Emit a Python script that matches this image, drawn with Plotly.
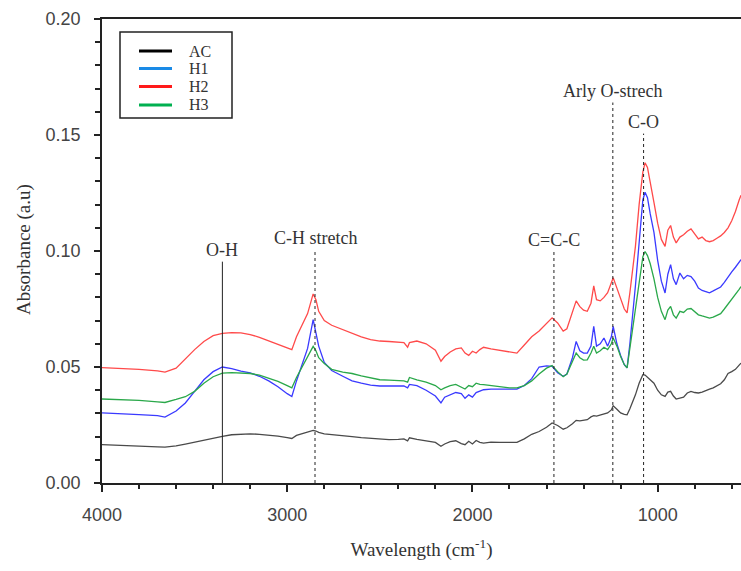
import plotly.graph_objects as go

wavenumber = [4000, 3900, 3800, 3700, 3660, 3600, 3550, 3500, 3450, 3400, 3350, 3300, 3250, 3200, 3150, 3100, 3050, 3000, 2975, 2950, 2920, 2890, 2860, 2845, 2830, 2800, 2760, 2700, 2650, 2600, 2550, 2500, 2450, 2400, 2370, 2350, 2340, 2300, 2250, 2200, 2170, 2150, 2120, 2090, 2060, 2040, 2020, 2000, 1980, 1960, 1940, 1900, 1850, 1800, 1760, 1720, 1680, 1640, 1600, 1570, 1540, 1510, 1490, 1460, 1440, 1420, 1400, 1380, 1360, 1345, 1330, 1310, 1290, 1270, 1250, 1240, 1220, 1200, 1180, 1165, 1150, 1120, 1100, 1080, 1068, 1055, 1040, 1020, 1000, 980, 960, 945, 930, 915, 900, 880, 860, 840, 820, 800, 780, 760, 740, 720, 700, 680, 660, 640, 620, 600, 580, 560, 550]

ac = [0.0165, 0.0163, 0.0160, 0.0156, 0.0155, 0.0160, 0.0168, 0.0177, 0.0185, 0.0195, 0.0201, 0.0208, 0.0211, 0.0212, 0.0210, 0.0207, 0.0202, 0.0196, 0.0192, 0.0205, 0.0212, 0.0218, 0.0227, 0.0224, 0.0218, 0.0212, 0.0208, 0.0204, 0.0200, 0.0196, 0.0192, 0.0188, 0.0187, 0.0188, 0.0190, 0.0182, 0.0195, 0.0188, 0.0183, 0.0175, 0.0158, 0.0168, 0.0178, 0.0182, 0.0170, 0.0165, 0.0180, 0.0168, 0.0183, 0.0175, 0.0172, 0.0176, 0.0175, 0.0174, 0.0175, 0.0190, 0.0210, 0.0222, 0.0240, 0.0259, 0.0248, 0.0232, 0.0238, 0.0255, 0.0270, 0.0268, 0.0272, 0.0273, 0.0285, 0.0290, 0.0288, 0.0292, 0.0298, 0.0302, 0.0315, 0.0333, 0.0318, 0.0302, 0.0296, 0.0294, 0.0320, 0.0380, 0.0430, 0.0467, 0.0465, 0.0455, 0.0445, 0.0430, 0.0400, 0.0380, 0.0373, 0.0392, 0.0395, 0.0375, 0.0362, 0.0366, 0.0370, 0.0388, 0.0395, 0.0390, 0.0388, 0.0392, 0.0400, 0.0405, 0.0410, 0.0418, 0.0428, 0.0445, 0.0472, 0.0480, 0.0490, 0.0508, 0.0517]

h1 = [0.0302, 0.0300, 0.0295, 0.0290, 0.0284, 0.0310, 0.0345, 0.0395, 0.0445, 0.0480, 0.0500, 0.0493, 0.0482, 0.0475, 0.0460, 0.0440, 0.0415, 0.0385, 0.0373, 0.0440, 0.0510, 0.0580, 0.0704, 0.0650, 0.0590, 0.0520, 0.0485, 0.0460, 0.0440, 0.0430, 0.0422, 0.0418, 0.0417, 0.0416, 0.0418, 0.0410, 0.0425, 0.0420, 0.0400, 0.0375, 0.0345, 0.0370, 0.0380, 0.0390, 0.0385, 0.0365, 0.0380, 0.0370, 0.0390, 0.0395, 0.0402, 0.0405, 0.0405, 0.0405, 0.0405, 0.0420, 0.0450, 0.0500, 0.0505, 0.0503, 0.0475, 0.0460, 0.0470, 0.0540, 0.0610, 0.0570, 0.0560, 0.0560, 0.0590, 0.0675, 0.0590, 0.0600, 0.0625, 0.0590, 0.0630, 0.0675, 0.0600, 0.0550, 0.0510, 0.0496, 0.0600, 0.0850, 0.1050, 0.1220, 0.1253, 0.1230, 0.1160, 0.1080, 0.0960, 0.0870, 0.0819, 0.0900, 0.0941, 0.0880, 0.0855, 0.0905, 0.0880, 0.0895, 0.0890, 0.0870, 0.0840, 0.0830, 0.0825, 0.0820, 0.0828, 0.0835, 0.0845, 0.0865, 0.0890, 0.0910, 0.0930, 0.0950, 0.0963]

h2 = [0.0497, 0.0495, 0.0490, 0.0483, 0.0478, 0.0495, 0.0535, 0.0575, 0.0610, 0.0635, 0.0645, 0.0648, 0.0647, 0.0640, 0.0628, 0.0612, 0.0597, 0.0582, 0.0575, 0.0630, 0.0680, 0.0730, 0.0815, 0.0790, 0.0740, 0.0700, 0.0680, 0.0660, 0.0645, 0.0630, 0.0618, 0.0612, 0.0610, 0.0608, 0.0605, 0.0585, 0.0605, 0.0612, 0.0600, 0.0572, 0.0525, 0.0545, 0.0565, 0.0578, 0.0582, 0.0560, 0.0550, 0.0568, 0.0560, 0.0575, 0.0585, 0.0578, 0.0572, 0.0565, 0.0560, 0.0595, 0.0630, 0.0655, 0.0690, 0.0712, 0.0690, 0.0655, 0.0665, 0.0740, 0.0785, 0.0760, 0.0745, 0.0740, 0.0775, 0.0850, 0.0790, 0.0785, 0.0800, 0.0820, 0.0860, 0.0885, 0.0840, 0.0790, 0.0750, 0.0733, 0.0820, 0.1020, 0.1200, 0.1340, 0.1380, 0.1360, 0.1300, 0.1210, 0.1120, 0.1050, 0.1020, 0.1090, 0.1110, 0.1060, 0.1035, 0.1060, 0.1070, 0.1085, 0.1095, 0.1075, 0.1052, 0.1060, 0.1045, 0.1040, 0.1045, 0.1055, 0.1065, 0.1080, 0.1100, 0.1130, 0.1170, 0.1220, 0.1240]

h3 = [0.0362, 0.0360, 0.0356, 0.0350, 0.0347, 0.0360, 0.0372, 0.0395, 0.0430, 0.0458, 0.0474, 0.0476, 0.0475, 0.0472, 0.0465, 0.0452, 0.0438, 0.0420, 0.0410, 0.0455, 0.0500, 0.0540, 0.0589, 0.0570, 0.0540, 0.0515, 0.0490, 0.0478, 0.0472, 0.0462, 0.0452, 0.0445, 0.0443, 0.0442, 0.0440, 0.0435, 0.0455, 0.0445, 0.0435, 0.0420, 0.0402, 0.0410, 0.0420, 0.0425, 0.0415, 0.0405, 0.0420, 0.0415, 0.0430, 0.0425, 0.0424, 0.0420, 0.0415, 0.0410, 0.0410, 0.0420, 0.0440, 0.0470, 0.0495, 0.0506, 0.0480, 0.0458, 0.0470, 0.0520, 0.0560, 0.0540, 0.0530, 0.0531, 0.0560, 0.0589, 0.0560, 0.0570, 0.0585, 0.0575, 0.0600, 0.0625, 0.0590, 0.0545, 0.0510, 0.0496, 0.0580, 0.0740, 0.0870, 0.0975, 0.0998, 0.0980, 0.0945, 0.0880, 0.0800, 0.0740, 0.0704, 0.0745, 0.0761, 0.0725, 0.0711, 0.0740, 0.0735, 0.0750, 0.0752, 0.0738, 0.0725, 0.0720, 0.0715, 0.0711, 0.0715, 0.0722, 0.0730, 0.0750, 0.0770, 0.0790, 0.0810, 0.0835, 0.0847]

series_names = ["AC", "H1", "H2", "H3"]
line_colors = ["#4a4a4a", "#3a3aff", "#ff4a4a", "#2aa84a"]
legend_colors = ["#000000", "#1a8ae6", "#ff1a1a", "#00b050"]

peak_labels = ["O-H", "C-H stretch", "C=C-C", "Arly O-strech", "C-O"]
peak_positions = [3350, 2850, 1560, 1242, 1076]
peak_tops = [0.0954, 0.1005, 0.0997, 0.164, 0.1506]
peak_dash = ["solid", "dot", "dot", "dot", "dot"]

FIG_W, FIG_H = 741, 571
M_L, M_R, M_T, M_B = 102, 0, 19, 88
PLOT_W = FIG_W - M_L - M_R
PLOT_H = FIG_H - M_T - M_B


def px(sx):
    return (sx - M_L) / PLOT_W


def py(sy):
    return (M_T + PLOT_H - sy) / PLOT_H


fig = go.Figure()
for name, ys, col in zip(series_names, [ac, h1, h2, h3], line_colors):
    fig.add_trace(go.Scatter(x=wavenumber, y=ys, mode="lines", name=name,
                             line=dict(color=col, width=1.3), showlegend=False))

for lab, pos, top, dsh in zip(peak_labels, peak_positions, peak_tops, peak_dash):
    fig.add_shape(type="line", x0=pos, x1=pos, y0=0, y1=top, xref="x", yref="y",
                  line=dict(color="#222222", width=1, dash=dsh))
    fig.add_annotation(x=pos, y=top, text=lab, showarrow=False, yanchor="bottom",
                       yshift=0, font=dict(family="Liberation Serif", size=18, color="#333333"))

# legend box drawn by hand
fig.add_shape(type="rect", xref="paper", yref="paper",
              x0=px(120), x1=px(232), y0=py(118), y1=py(32),
              line=dict(color="#222222", width=1.5), fillcolor="white")
legend_rows = [51, 68.5, 86.5, 105]
for name, col, ry in zip(series_names, legend_colors, legend_rows):
    fig.add_shape(type="line", xref="paper", yref="paper",
                  x0=px(139), x1=px(172), y0=py(ry), y1=py(ry),
                  line=dict(color=col, width=3))
    fig.add_annotation(xref="paper", yref="paper", x=px(187), y=py(ry), text=name,
                       showarrow=False, xanchor="left", yanchor="middle",
                       font=dict(family="Liberation Serif", size=16, color="#333333"))

# y-axis title placed as text near the left edge
fig.add_annotation(xref="paper", yref="paper", x=px(24), y=py(250), text="Absorbance (a.u)",
                   textangle=-90, showarrow=False, xanchor="center", yanchor="middle",
                   font=dict(family="Liberation Serif", size=19, color="#333333"))

fig.update_layout(
    width=FIG_W, height=FIG_H,
    margin=dict(l=M_L, r=M_R, t=M_T, b=M_B),
    plot_bgcolor="white", paper_bgcolor="white",
    showlegend=False,
    xaxis=dict(range=[4000, 550], showgrid=False, zeroline=False,
               showline=True, linecolor="#222222", linewidth=1.5, mirror=True,
               ticks="outside", ticklen=7, tickwidth=1.5, tickcolor="#222222",
               tickvals=[4000, 3000, 2000, 1000], ticklabelstandoff=8,
               minor=dict(dtick=200, tick0=0, ticks="outside", ticklen=4, tickcolor="#222222", tickwidth=1.5),
               tickfont=dict(family="Liberation Sans", size=18, color="#444444"),
               title=dict(text="Wavelength (cm<sup>-1</sup>)", standoff=18,
                          font=dict(family="Liberation Serif", size=19, color="#333333"))),
    yaxis=dict(range=[0, 0.2], showgrid=False, zeroline=False,
               showline=True, linecolor="#222222", linewidth=1.5,
               ticks="outside", ticklen=6, tickwidth=1.5, tickcolor="#222222",
               dtick=0.05, tickformat=".2f", ticklabelstandoff=10,
               minor=dict(dtick=0.01, ticks="outside", ticklen=5, tickcolor="#222222", tickwidth=1.5),
               tickfont=dict(family="Liberation Sans", size=18, color="#444444")),
)

fig.write_html("out.html", config={"displayModeBar": False},
               post_script="document.body.style.margin='0';document.body.style.overflow='hidden';")
